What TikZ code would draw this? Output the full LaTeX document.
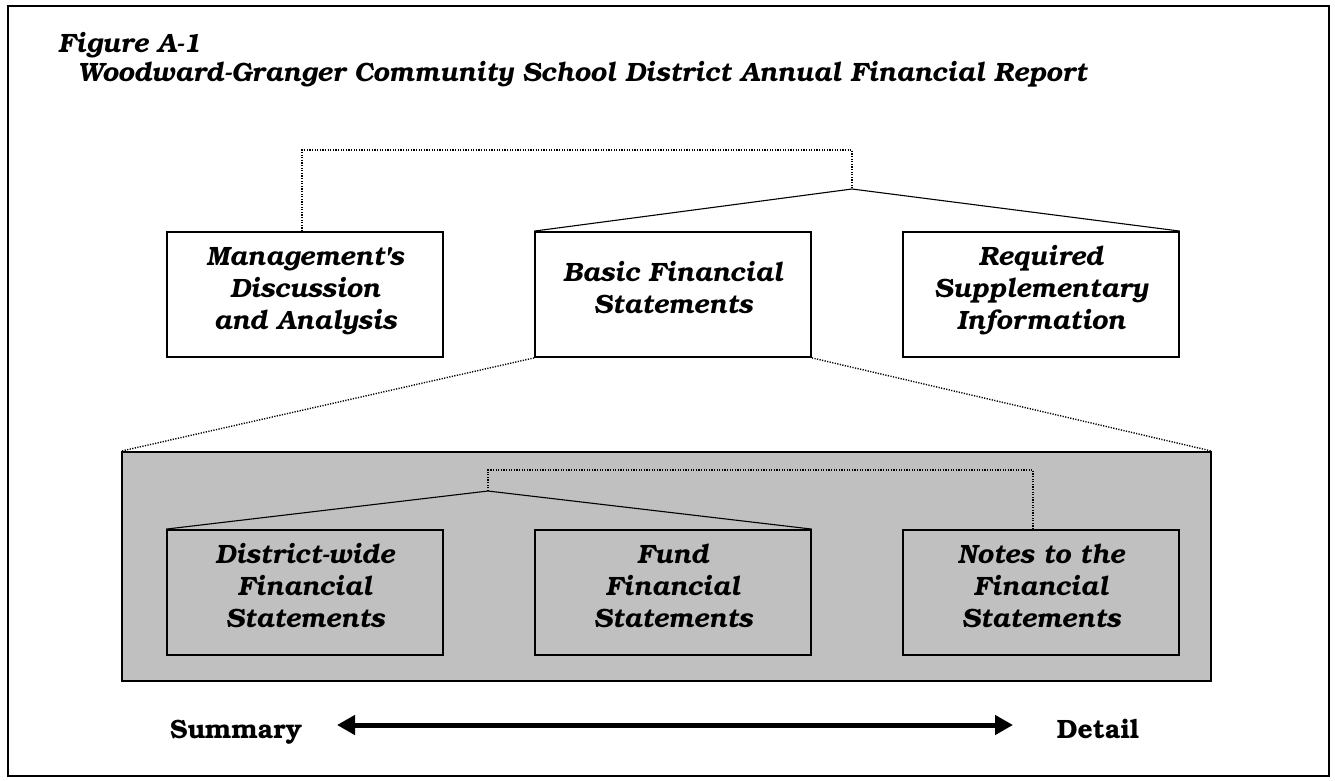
\documentclass[tikz,border=0pt]{standalone}
\usepackage[T1]{fontenc}
\usepackage{bookman}
\usetikzlibrary{arrows.meta,calc}

\definecolor{panelgray}{HTML}{C0C0C0}

% box text sits a little above the middle of its box
\newcommand{\boxtext}[1]{\raisebox{3.5pt}[\height][\depth]{%
  \setlength{\tabcolsep}{0pt}\begin{tabular}{c}#1\end{tabular}}}

\tikzset{
  block/.style={draw, line width=1.8pt, rectangle, inner sep=0pt,
    minimum width=276pt, minimum height=125pt,
    font=\fontsize{26.5}{32}\selectfont\bfseries\itshape},
  heading/.style={anchor=base west, inner sep=0pt,
    font=\fontsize{26.5}{32}\selectfont\bfseries\itshape},
  scalelabel/.style={anchor=base, inner sep=0pt,
    font=\fontsize{26.5}{32}\selectfont\bfseries},
  link/.style={line width=1.1pt},
  dotlink/.style={line width=1.4pt, dash pattern=on 1.2pt off 1.4pt},
}

\begin{document}
\begin{tikzpicture}[x=1pt,y=-1pt]
  % page frame
  \useasboundingbox (0,0) rectangle (1335,780);
  \node[draw, line width=2pt, minimum width=1321pt, minimum height=770pt, inner sep=0pt]
    (frame) at (668.5,390.5) {};

  % title
  \node[heading] (fig) at (58,52) {Figure A-1};
  \node[heading] (title) at (78,81)
    {Woodward-Granger Community School District Annual Financial Report};

  % upper row
  \node[block] (mda) at (305,294.5)
    {\boxtext{Management\textquotesingle s\\Discussion\\and Analysis}};
  \node[block] (bfs) at (673,294.5) {\boxtext{Basic Financial\\Statements}};
  \node[block] (rsi) at (1041,294.5) {\boxtext{Required\\Supplementary\\Information}};

  % shaded panel with the statements
  \node[draw, fill=panelgray, line width=1.8pt, minimum width=1089pt, minimum height=229pt,
    inner sep=0pt] (panel) at (666.5,566.5) {};
  \node[block] (dw) at (305,592.5) {\boxtext{District-wide\\Financial\\Statements}};
  \node[block] (fund) at (673,592.5) {\boxtext{Fund\\Financial\\Statements}};
  \node[block] (notes) at (1041,592.5) {\boxtext{Notes to the\\Financial\\Statements}};

  % junctions
  \coordinate (j1) at (852,189);
  \coordinate (j2) at (488,491);

  % upper connectors
  \draw[dotlink] ([xshift=-3pt]mda.north) |- ([yshift=39pt]j1) -- (j1);
  \draw[link] (bfs.north west) -- (j1) -- (rsi.north east);
  \draw[dotlink] (bfs.south west) -- (panel.north west);
  \draw[dotlink] (bfs.south east) -- (panel.north east);

  % panel connectors
  \draw[link] (dw.north west) -- (j2) -- (fund.north east);
  \draw[dotlink] (j2) -- ([yshift=21pt]j2) -| ([xshift=-8pt]notes.north);

  % summary/detail scale
  \node[scalelabel] (sum) at (236,738) {Summary};
  \node[scalelabel] (det) at (1098,738) {Detail};
  \coordinate (a1) at (337,725);
  \coordinate (a2) at (1013,725);
  \draw[line width=5pt, {Triangle[length=18pt,width=19pt]}-{Triangle[length=18pt,width=19pt]}]
    (a1) -- (a2);
\end{tikzpicture}
\end{document}
